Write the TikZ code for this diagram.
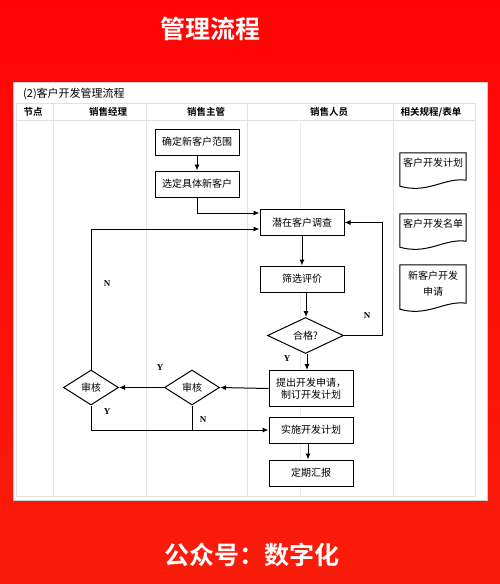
\documentclass[tikz,border=0pt]{standalone}
\usepackage{fontspec}
\setmainfont{Noto Sans CJK SC}[BoldFont={Noto Sans CJK SC Bold}]
\newfontfamily\lbl{Liberation Serif}
\usetikzlibrary{shapes.geometric,arrows.meta,calc}
\definecolor{bgred}{RGB}{255,4,4}
\definecolor{bgred2}{RGB}{250,28,10}
\definecolor{gridc}{RGB}{225,225,225}
\tikzset{
  box/.style={draw=black, line width=1pt, fill=white, minimum width=84pt, minimum height=26pt, inner sep=0pt, font=\fontsize{10}{11.5}\selectfont, align=center},
  dia/.style={draw=black, line width=1pt, fill=white, diamond, aspect=2.2, inner sep=0pt, font=\fontsize{10}{11.5}\selectfont},
  doc/.style={minimum width=66pt, inner sep=0pt, font=\fontsize{10}{11.5}\selectfont, align=center},
  arr/.style={line width=1pt, -{Latex[length=6pt,width=5pt]}},
  ln/.style={line width=1pt},
  yn/.style={font=\lbl\fontsize{9}{10}\selectfont\bfseries, inner sep=0pt},
  hdr/.style={font=\fontsize{9.5}{11}\selectfont\bfseries, inner sep=0pt},
  grid/.style={draw=gridc, line width=0.6pt},
  big/.style={font=\fontsize{25}{28}\selectfont\bfseries, text=white, inner sep=0pt}
}
\newcommand{\docshape}[1]{%
  \draw[line width=1pt, fill=white] (#1.north west) -- (#1.north east) -- (#1.south east)
    .. controls ($(#1.south east)+(-22,-3)$) and ($(#1.south west)+(28,14)$) .. ($(#1.south west)+(0,6)$) -- cycle;}
\begin{document}
\begin{tikzpicture}[x=1pt,y=-1pt]
\useasboundingbox (0,0) rectangle (500,584);
\shade[top color=bgred, bottom color=bgred2] (0,0) rectangle (500,584);
% panel
\fill[gray!40] (13,82) rectangle (488,501);
\fill[white] (14,83) rectangle (487,500);
% titles
\node[big] (title) at (210,29) {管理流程};
\node[big] (foot) at (252,555) {公众号：数字化};
\node[anchor=west, inner sep=0pt, font=\fontsize{11}{12}\selectfont] (cap) at (23,94) {(2)客户开发管理流程};
% grid
\draw[grid] (16,103) rectangle (475,496);
\draw[grid] (16,120) -- (475,120);
\foreach \gx in {53,146,247,393} {\draw[grid] (\gx,103) -- (\gx,496);}
\draw[grid, draw=gridc!60] (300,120) -- (300,496);
% headers
\node[hdr] (h1) at (33,112) {节点};
\node[hdr] (h2) at (108,112) {销售经理};
\node[hdr] (h3) at (206,112) {销售主管};
\node[hdr] (h4) at (329,112) {销售人员};
\node[hdr] (h5) at (431,112) {相关规程/表单};
% process nodes
\node[box] (b1) at (197,142) {确定新客户范围};
\node[box] (b2) at (197,184) {选定具体新客户};
\node[box] (inv) at (302,222.5) {潜在客户调查};
\node[box] (scr) at (302,279) {筛选评价};
\node[dia, minimum width=76pt, minimum height=36pt] (q) at (305.5,335.5) {合格?};
\node[box, minimum height=36pt] (p) at (311,388.5) {提出开发申请，\\制订开发计划};
\node[dia, minimum width=55pt, minimum height=35pt] (a2) at (192,387.5) {审核};
\node[dia, minimum width=55pt, minimum height=35pt] (a1) at (91,387.5) {审核};
\node[box] (impl) at (311,430) {实施开发计划};
\node[box] (rep) at (311,473) {定期汇报};
% documents
\node[doc, minimum height=27pt] (d1) at (433,166.5) {};
\docshape{d1}
\node[font=\fontsize{10}{11.5}\selectfont, inner sep=0pt] (t1) at (433,163) {客户开发计划};
\node[doc, minimum height=27pt] (d2) at (433,227.5) {};
\docshape{d2}
\node[font=\fontsize{10}{11.5}\selectfont, inner sep=0pt] (t2) at (433,224) {客户开发名单};
\node[doc, minimum height=38pt] (d3) at (433,284) {};
\docshape{d3}
\node[font=\fontsize{10}{16.5}\selectfont, inner sep=0pt, align=center] (t3) at (433,283.5) {新客户开发\\申请};
% connectors
\draw[arr] (b1) -- (b2);
\draw[arr] (b2.south) |- ($(inv.west)+(0,-9.5)$);
\draw[arr] (a1.north) |- ($(inv.west)+(0,6.5)$);
\draw[arr] (inv) -- (scr);
\draw[arr] (scr.south -| 306,0) -- (q.north -| 306,0);
\draw[arr] (q.east) -- (382,335.5) |- (inv.east);
\draw[arr] (q.south -| 307,0) -- (p.north -| 307,0);
\draw[arr] (p.west) -- (a2.east);
\draw[arr] (a2.west) -- (a1.east);
\draw[arr] (a1.south) |- (impl.west);
\draw[ln] (a2.south) -- (a2.south |- impl.west);
\draw[arr] (impl.south -| 308,0) -- (rep.north -| 308,0);
% labels
\node[yn] (n1) at (107,284) {N};
\node[yn] (y1) at (160,368) {Y};
\node[yn] (y2) at (107,412) {Y};
\node[yn] (n2) at (203,420) {N};
\node[yn] (n3) at (367,316) {N};
\node[yn] (y3) at (287,359) {Y};
\end{tikzpicture}
\end{document}
